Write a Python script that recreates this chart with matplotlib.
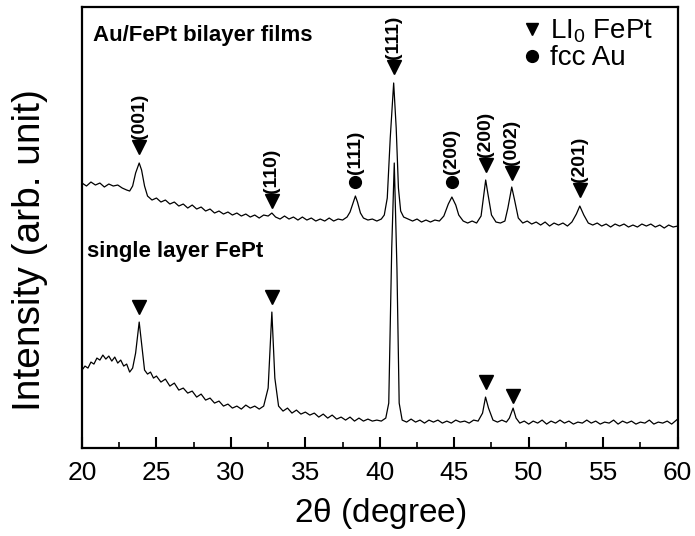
import matplotlib
matplotlib.use('Agg')
import matplotlib.pyplot as plt
from matplotlib.lines import Line2D
from matplotlib.ticker import MultipleLocator

plt.rcParams['font.family'] = ['Liberation Sans', 'DejaVu Sans']
plt.rcParams['mathtext.default'] = 'regular'

# Au/FePt bilayer film pattern (2theta, intensity arb.)
bi_tt = [20.0, 20.3, 20.6, 20.9, 21.2, 21.5, 21.8, 22.1, 22.4, 22.7, 23.0, 23.2, 23.4, 23.6,
         23.84, 24.0, 24.2, 24.4, 24.7, 25.0, 25.3, 25.6, 25.9, 26.2, 26.5, 26.8, 27.1, 27.4,
         27.7, 28.0, 28.3, 28.6, 28.9, 29.2, 29.5, 29.8, 30.1, 30.4, 30.7, 31.0, 31.3, 31.6,
         31.9, 32.2, 32.5, 32.75, 33.0, 33.3, 33.6, 33.9, 34.2, 34.5, 34.8, 35.1, 35.4, 35.7,
         36.0, 36.3, 36.6, 36.9, 37.2, 37.5, 37.8, 38.0, 38.2, 38.36, 38.5, 38.7, 38.9, 39.2,
         39.5, 39.8, 40.1, 40.3, 40.5, 40.7, 40.93, 41.1, 41.25, 41.4, 41.6, 41.9, 42.2, 42.5,
         42.8, 43.1, 43.4, 43.7, 44.0, 44.3, 44.6, 44.84, 45.1, 45.3, 45.6, 45.9, 46.2, 46.5,
         46.8, 47.0, 47.11, 47.25, 47.5, 47.8, 48.1, 48.4, 48.6, 48.86, 49.05, 49.3, 49.6, 49.9,
         50.2, 50.5, 50.8, 51.1, 51.4, 51.7, 52.0, 52.3, 52.6, 52.9, 53.2, 53.43, 53.7, 54.0,
         54.3, 54.6, 54.9, 55.2, 55.5, 55.8, 56.1, 56.4, 56.7, 57.0, 57.3, 57.6, 57.9, 58.2,
         58.5, 58.8, 59.1, 59.4, 59.7, 60.0]
bi_int = [265, 262, 266, 263, 265, 261, 264, 262, 263, 260, 258, 257, 262, 275,
          285, 278, 262, 252, 248, 250, 246, 248, 244, 246, 242, 244, 240, 243,
          239, 241, 237, 239, 235, 237, 234, 236, 233, 235, 232, 234, 231, 233,
          230, 233, 232, 235, 231, 229, 232, 229, 231, 228, 231, 228, 230, 227,
          229, 227, 230, 227, 229, 228, 231, 236, 245, 252, 246, 235, 230, 228,
          229, 227, 229, 233, 250, 310, 365, 320, 260, 237, 231, 229, 227, 229,
          226, 228, 226, 228, 227, 232, 244, 251, 243, 233, 227, 225, 227, 225,
          232, 255, 268, 255, 233, 226, 225, 227, 240, 261, 248, 230, 225, 227,
          224, 226, 223, 226, 222, 225, 223, 225, 222, 226, 234, 242, 233, 225,
          223, 225, 222, 224, 221, 224, 222, 224, 221, 223, 221, 224, 222, 224,
          221, 223, 220, 223, 221, 222]

# single layer FePt pattern
sl_tt = [20.0, 20.2, 20.4, 20.6, 20.8, 21.0, 21.2, 21.4, 21.6, 21.8, 22.0, 22.2, 22.4, 22.6,
         22.8, 23.0, 23.2, 23.4, 23.6, 23.84, 24.0, 24.2, 24.4, 24.6, 24.8, 25.0, 25.3, 25.6,
         25.9, 26.2, 26.5, 26.8, 27.1, 27.4, 27.7, 28.0, 28.3, 28.6, 28.9, 29.2, 29.5, 29.8,
         30.1, 30.4, 30.7, 31.0, 31.3, 31.6, 31.9, 32.2, 32.5, 32.75, 32.95, 33.2, 33.5, 33.8,
         34.1, 34.4, 34.7, 35.0, 35.3, 35.6, 35.9, 36.2, 36.5, 36.8, 37.1, 37.4, 37.7, 38.0,
         38.3, 38.6, 38.9, 39.2, 39.5, 39.8, 40.1, 40.4, 40.6, 40.8, 40.97, 41.15, 41.3, 41.5,
         41.8, 42.1, 42.4, 42.7, 43.0, 43.3, 43.6, 43.9, 44.2, 44.5, 44.8, 45.1, 45.4, 45.7,
         46.0, 46.3, 46.6, 46.9, 47.1, 47.3, 47.6, 47.9, 48.2, 48.5, 48.7, 48.95, 49.15, 49.4,
         49.7, 50.0, 50.3, 50.6, 50.9, 51.2, 51.5, 51.8, 52.1, 52.4, 52.7, 53.0, 53.3, 53.6,
         53.9, 54.2, 54.5, 54.8, 55.1, 55.4, 55.7, 56.0, 56.3, 56.6, 56.9, 57.2, 57.5, 57.8,
         58.1, 58.4, 58.7, 59.0, 59.3, 59.6, 60.0]
sl_int = [78, 82, 80, 86, 84, 90, 88, 93, 89, 92, 87, 91, 85, 88,
          82, 84, 76, 80, 95, 126, 105, 78, 74, 76, 70, 72, 66, 69,
          62, 65, 58, 60, 55, 57, 51, 54, 48, 50, 45, 47, 42, 44,
          40, 42, 39, 43, 40, 42, 39, 42, 60, 136, 70, 42, 37, 40,
          35, 38, 34, 36, 33, 35, 31, 34, 30, 33, 29, 31, 28, 31,
          27, 30, 27, 29, 27, 28, 27, 30, 45, 200, 285, 180, 45, 28,
          26, 29, 26, 28, 25, 28, 26, 28, 25, 27, 25, 28, 26, 27,
          25, 28, 27, 35, 51, 40, 28, 26, 28, 26, 30, 40, 30, 25,
          27, 24, 27, 25, 28, 24, 27, 25, 28, 25, 27, 24, 26, 25,
          28, 25, 27, 24, 26, 25, 28, 24, 27, 25, 27, 24, 26, 25,
          28, 24, 26, 25, 27, 24, 29]

# peak markers: L1_0 FePt (triangles) and fcc Au (circles)
bi_fept_tt = [23.84, 32.75, 40.93, 47.11, 48.86, 53.43]
bi_fept_y = [301, 247, 381, 283, 275, 258]
bi_fept_hkl = ['(001)', '(110)', '(111)', '(200)', '(002)', '(201)']
bi_au_tt = [38.36, 44.84]
bi_au_y = [266, 266]
bi_au_hkl = ['(111)', '(200)']
sl_fept_tt = [23.84, 32.75, 47.1, 48.95]
sl_fept_y = [141, 151, 66, 52]

fig = plt.figure(figsize=(6.95, 5.36), dpi=100)
ax = fig.add_axes([0.118, 0.164, 0.857, 0.823])

ax.plot(bi_tt, bi_int, color='black', lw=0.9)
ax.plot(sl_tt, sl_int, color='black', lw=0.9)

ax.plot(bi_fept_tt, bi_fept_y, 'kv', ms=9.5, ls='none')
ax.plot(bi_au_tt, bi_au_y, 'ko', ms=8.5, ls='none')
ax.plot(sl_fept_tt, sl_fept_y, 'kv', ms=9.5, ls='none')

for t, y, s in zip(bi_fept_tt + bi_au_tt, bi_fept_y + bi_au_y, bi_fept_hkl + bi_au_hkl):
    ax.annotate(s, (t, y), xytext=(0, 6), textcoords='offset points',
                rotation=90, ha='center', va='bottom', fontsize=14, fontweight='bold')

ax.text(0.018, 0.935, 'Au/FePt bilayer films', transform=ax.transAxes,
        fontsize=16, fontweight='bold', va='center')
ax.text(0.008, 0.445, 'single layer FePt', transform=ax.transAxes,
        fontsize=16, fontweight='bold', va='center')

handles = [Line2D([], [], color='black', marker='v', ls='none', ms=9),
           Line2D([], [], color='black', marker='o', ls='none', ms=8.5)]
ax.legend(handles, ['LI$_0$ FePt', 'fcc Au'], loc='upper left',
          bbox_to_anchor=(0.735, 0.983), frameon=False, fontsize=20,
          handlelength=0.7, handletextpad=0.3, labelspacing=0.02,
          borderpad=0.1, borderaxespad=0)

ax.set_xlim(20, 60)
ax.set_ylim(0, 441)
ax.xaxis.set_major_locator(MultipleLocator(5))
ax.xaxis.set_minor_locator(MultipleLocator(2.5))
ax.tick_params(axis='x', which='major', direction='in', length=8, width=1.5, labelsize=19, pad=9)
ax.tick_params(axis='x', which='minor', direction='in', length=4, width=1.2)
ax.set_yticks([])
for sp in ax.spines.values():
    sp.set_linewidth(1.6)

ax.set_xlabel(r'2$\theta$ (degree)', fontsize=24, labelpad=8)
ax.set_ylabel('Intensity (arb. unit)', fontsize=28)
ax.yaxis.set_label_coords(-0.057, 0.449)

fig.savefig('out.png', dpi=100)
